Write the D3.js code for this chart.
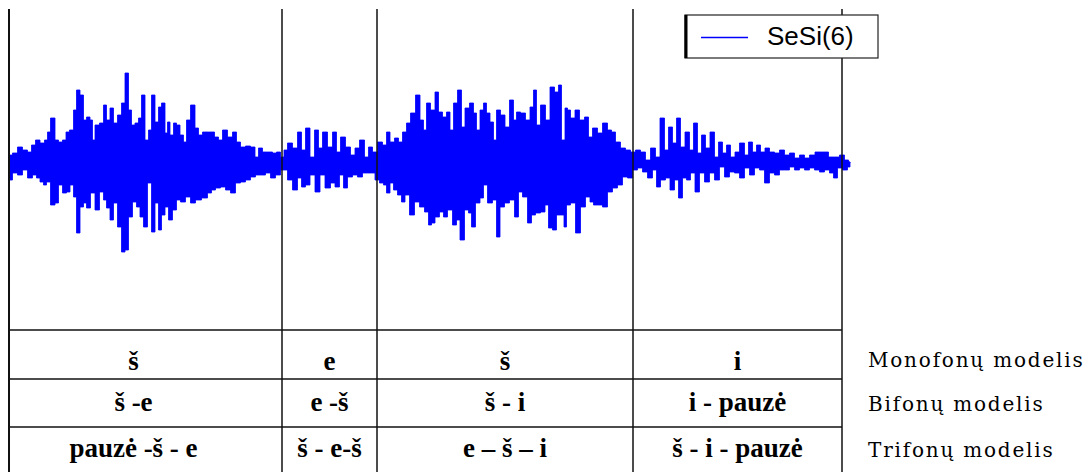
<!DOCTYPE html>
<html>
<head>
<meta charset="utf-8">
<script src="https://cdn.jsdelivr.net/npm/d3@7"></script>
<style>
body { margin: 0; background: #fff; }
svg { display: block; }
</style>
</head>
<body>
<svg id="chart" width="1090" height="472"></svg>
<script>
// Segment boundaries along the recording (ms)
const boundaries = [0, 273, 368, 624, 833];

// Upper peaks of the signal [time ms, amplitude]
const upperPeaks = [
  [1,7],[6,9],[11,15],[16,12],[21,10],[24,17],[29,22],[33,19],[38,22],[39,30],[44,44],[48,22],[51,20],[56,22],[58,30],
  [63,32],[66,52],[69,72],[73,67],[76,42],[79,45],[83,42],[84,22],[88,37],[93,39],[96,57],[99,42],[103,54],[106,39],
  [111,47],[114,59],[118,89],[121,52],[124,37],[128,39],[131,44],[134,67],[138,22],[141,32],[144,67],[148,40],[151,55],
  [154,59],[158,29],[159,40],[163,27],[166,39],[169,37],[173,27],[176,20],[179,42],[184,57],[188,34],[191,27],[196,30],
  [203,30],[208,25],[211,22],[216,32],[221,25],[226,30],[229,20],[234,15],[239,16],[244,15],[248,5],[251,14],[256,10],
  [261,10],[266,9],[269,10],[274,5],
  [276,12],[281,19],[286,14],[291,30],[294,12],[299,34],[303,5],[308,32],[311,14],[316,30],[321,15],[326,30],[329,10],
  [334,25],[339,15],[344,7],[348,14],[353,22],[358,5],[361,15],[366,10],[371,20],[376,17],[379,30],[383,20],[388,24],
  [391,20],[396,30],[399,39],[404,49],[409,67],[413,42],[416,32],[419,59],[424,52],[428,70],[431,50],[436,45],[439,50],
  [443,32],[446,59],[451,72],[454,35],[458,54],[463,59],[466,49],[469,32],[473,52],[476,59],[479,49],[483,40],[486,22],
  [489,52],[494,47],[498,35],[503,62],[506,42],[509,50],[514,49],[519,42],[523,55],[526,72],[529,37],[534,57],[539,42],
  [543,75],[548,70],[551,77],[554,22],[558,54],
  [559,52],[564,44],[568,52],[573,42],[578,45],[581,25],[586,34],[591,29],[596,39],[601,32],[604,30],[609,20],[614,14],
  [619,12],[624,10],[629,12],[634,10],[639,2],[644,14],[649,5],[653,44],[658,12],[661,35],[666,19],[669,44],[674,15],
  [678,30],[683,12],[686,39],[691,9],[694,27],[699,14],[703,30],[708,5],[711,20],[716,9],[719,17],[724,5],[728,10],
  [733,19],[738,7],[741,20],[746,10],[749,17],[754,10],[758,14],[763,10],[768,9],[773,12],[778,7],[783,9],[788,4],
  [793,7],[798,4],[803,7],[809,10],[816,10],[823,5],[828,5],[833,7],[838,2],[841,-1]
];

// Lower peaks of the signal [time ms, amplitude]
const lowerPeaks = [
  [1,-18],[6,-11],[11,-13],[16,-8],[21,-16],[26,-13],[29,-16],[33,-20],[36,-23],[39,-20],[44,-43],[48,-41],[51,-23],
  [56,-31],[59,-30],[63,-23],[66,-35],[69,-71],[73,-45],[76,-41],[79,-46],[84,-31],[88,-48],[93,-30],[96,-38],[99,-46],
  [103,-58],[106,-41],[111,-65],[114,-90],[118,-88],[121,-55],[126,-40],[129,-45],[133,-55],[136,-65],[141,-21],
  [144,-70],[148,-41],[151,-68],[154,-53],[158,-45],[161,-58],[166,-48],[169,-38],[174,-40],[179,-35],[184,-41],
  [189,-38],[196,-36],[201,-31],[204,-28],[209,-26],[214,-25],[219,-28],[224,-31],[229,-21],[234,-20],[239,-18],
  [244,-15],[249,-13],[254,-13],[259,-11],[264,-16],[269,-13],[274,-8],
  [276,-8],[281,-18],[286,-28],[291,-16],[294,-25],[299,-23],[303,-13],[309,-30],[313,-13],[319,-26],[324,-21],
  [328,-25],[333,-13],[336,-26],[341,-15],[346,-13],[351,-15],[356,-11],[361,-11],[364,-11],[368,-18],[373,-21],
  [376,-23],[379,-31],[383,-21],[386,-28],[391,-33],[394,-40],[398,-33],[403,-53],[408,-40],[413,-45],[418,-50],
  [421,-63],[424,-61],[428,-55],[433,-50],[436,-55],[441,-48],[446,-63],[449,-58],[453,-78],[458,-48],[461,-51],
  [464,-65],[469,-41],[473,-36],[476,-23],[481,-41],[486,-38],[489,-75],[493,-45],[498,-41],[503,-38],[508,-55],
  [511,-30],[516,-35],[521,-61],[524,-53],[529,-51],[534,-50],[538,-43],[541,-66],[546,-68],[549,-53],[554,-53],
  [556,-65],[559,-43],[564,-41],[569,-71],[574,-45],[579,-35],[583,-40],[586,-43],[591,-43],[596,-45],[601,-30],
  [606,-26],[611,-23],[616,-15],[621,-16],[626,-8],[631,-6],[636,-10],[641,-16],[646,-8],[649,-25],[654,-18],
  [659,-16],[663,-28],[668,-18],[671,-36],[676,-16],[679,-18],[684,-11],[688,-30],[693,-11],[698,-20],[703,-11],
  [708,-18],[713,-5],[718,-15],[723,-10],[728,-11],[733,-16],[738,-6],[743,-13],[748,-6],[753,-8],[758,-21],
  [763,-11],[768,-13],[773,-8],[778,-8],[783,-5],[788,-8],[793,-6],[798,-8],[803,-6],[808,-8],[813,-10],[818,-8],
  [823,-11],[826,-16],[831,-6],[836,-8],[841,-5]
];

// Phone labels per segment, one list per model
const monophones = ["š", "e", "š", "i"];
const diphones = ["š -e", "e -š", "š - i", "i - pauzė"];
const triphones = ["pauzė -š - e", "š - e-š", "e – š – i", "š - i - pauzė"];
const modelLabels = ["Monofonų modelis", "Bifonų modelis", "Trifonų modelis"];
const seriesName = "SeSi(6)";

const svg = d3.select("#chart");
const width = 1090, height = 472;

// Scales: time -> x, amplitude -> y
const xScale = d3.scaleLinear().domain([0, 833]).range([9, 842]);
const yScale = d3.scaleLinear().domain([-168, 153]).range([330, 9]);

// waveform: filled from zero to each peak, stepped like the original plot
const peakArea = d3.area()
    .x(d => xScale(d[0]))
    .y0(yScale(0))
    .y1(d => yScale(d[1]))
    .curve(d3.curveStep);

const wave = svg.append("g").attr("class", "waveform");
wave.selectAll("path")
    .data([upperPeaks, lowerPeaks])
    .enter()
    .append("path")
    .attr("fill", "#0000ff")
    .attr("stroke", "#0000ff")
    .attr("stroke-width", 0.8)
    .attr("d", peakArea);

// segment separators
svg.append("g").selectAll("line")
    .data(boundaries)
    .enter()
    .append("line")
    .attr("x1", d => xScale(d))
    .attr("x2", d => xScale(d))
    .attr("y1", 9)
    .attr("y2", height)
    .attr("stroke", "#111")
    .attr("stroke-width", (d, i) => i === 0 ? 2 : 1.5);

// table rows
const rowTops = [330, 379, 427];
const rowBaselines = [370, 411, 457];
const rows = [monophones, diphones, triphones];

svg.append("g").selectAll("line")
    .data(rowTops)
    .enter()
    .append("line")
    .attr("x1", xScale(0))
    .attr("x2", xScale(833))
    .attr("y1", d => d)
    .attr("y2", d => d)
    .attr("stroke", "#111")
    .attr("stroke-width", 1.5);

const colCenter = i => (xScale(boundaries[i]) + xScale(boundaries[i + 1])) / 2 - (i === 0 ? 12 : 0);

rows.forEach((labels, r) => {
    svg.append("g")
        .selectAll("text")
        .data(labels)
        .enter()
        .append("text")
        .attr("x", (d, i) => colCenter(i))
        .attr("y", rowBaselines[r])
        .attr("text-anchor", "middle")
        .attr("font-family", "'Liberation Serif', 'Times New Roman', serif")
        .attr("font-weight", "bold")
        .attr("font-size", "27px")
        .attr("fill", "#000")
        .text(d => d);
});

// model names on the right
svg.append("g").selectAll("text")
    .data(modelLabels)
    .enter()
    .append("text")
    .attr("x", 868)
    .attr("y", (d, i) => [367, 411, 457][i])
    .attr("font-family", "'DejaVu Serif', serif")
    .attr("font-size", "20px")
    .attr("letter-spacing", "1.8px")
    .attr("fill", "#000")
    .text(d => d);

// legend
const legend = svg.append("g").attr("class", "legend");
legend.append("rect")
    .attr("x", 685)
    .attr("y", 15)
    .attr("width", 193)
    .attr("height", 43)
    .attr("fill", "#fff")
    .attr("stroke", "#222")
    .attr("stroke-width", 1.2);
legend.append("line")
    .attr("x1", 686).attr("x2", 686)
    .attr("y1", 15).attr("y2", 58)
    .attr("stroke", "#000")
    .attr("stroke-width", 3);
legend.append("line")
    .attr("x1", 701).attr("x2", 748)
    .attr("y1", 37.5).attr("y2", 37.5)
    .attr("stroke", "#0000ff")
    .attr("stroke-width", 1.5);
legend.append("text")
    .attr("x", 767)
    .attr("y", 45)
    .attr("font-family", "'Liberation Sans', Arial, sans-serif")
    .attr("font-size", "26px")
    .attr("fill", "#000")
    .text(seriesName);
</script>
</body>
</html>
